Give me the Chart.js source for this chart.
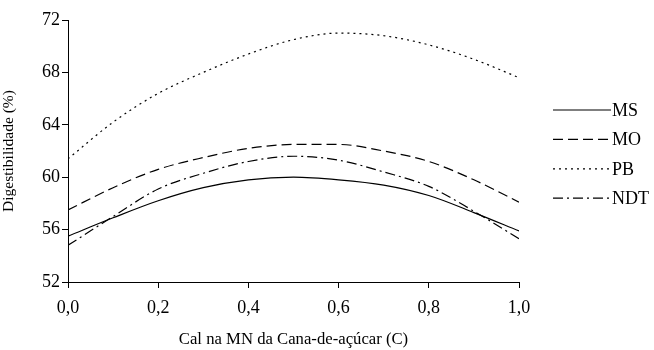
<!DOCTYPE html>
<html>
<head>
<meta charset="utf-8">
<script src="https://cdn.jsdelivr.net/npm/chart.js@4.4.1/dist/chart.umd.min.js"></script>
<style>
  html, body { margin: 0; padding: 0; background: #fff; }
  #wrap { width: 654px; height: 350px; }
</style>
</head>
<body>
<div id="wrap"><canvas id="grafico"></canvas></div>
<script>
// Dados
const xValues = [0, 0.1, 0.2, 0.3, 0.4, 0.5, 0.6, 0.7, 0.8, 0.9, 1.0];
const msValues = [55.5, 56.9, 58.2, 59.2, 59.8, 60.0, 59.8, 59.4, 58.6, 57.3, 55.9];
const moValues = [57.5, 59.2, 60.6, 61.5, 62.2, 62.5, 62.5, 62.0, 61.2, 59.8, 58.1];
const pbValues = [61.4, 64.2, 66.4, 68.0, 69.4, 70.5, 71.0, 70.8, 70.1, 69.0, 67.6];
const ndtValues = [54.8, 57.0, 59.1, 60.3, 61.2, 61.6, 61.3, 60.4, 59.3, 57.4, 55.3];
const seriesNames = ['MS', 'MO', 'PB', 'NDT'];
const yTicks = [52, 56, 60, 64, 68, 72];

const FONT = '"Liberation Serif", "Times New Roman", serif';

function toPoints(values) {
    return values.map((v, i) => ({ x: xValues[i], y: v }));
}

const dashes = [[], [10, 5], [2, 4], [10, 4, 2, 4]];
const allValues = [msValues, moValues, pbValues, ndtValues];

const datasets = seriesNames.map((name, i) => ({
    label: name,
    data: toPoints(allValues[i]),
    borderColor: '#000',
    borderWidth: 1.2,
    borderDash: dashes[i],
    pointRadius: 0,
    fill: false,
    cubicInterpolationMode: 'monotone'
}));

// Legenda desenhada à direita, com amostras de linha
const legendaLinhas = {
    id: 'legendaLinhas',
    afterDraw(chart) {
        const ctx = chart.ctx;
        const startY = 110;
        const gap = 29.4;
        ctx.save();
        chart.data.datasets.forEach((ds, i) => {
            const y = startY + i * gap;
            ctx.beginPath();
            ctx.setLineDash(ds.borderDash || []);
            ctx.lineWidth = 1.2;
            ctx.strokeStyle = '#000';
            ctx.moveTo(553, y);
            ctx.lineTo(611, y);
            ctx.stroke();
            ctx.setLineDash([]);
            ctx.fillStyle = '#000';
            ctx.font = '18px ' + FONT;
            ctx.textBaseline = 'middle';
            ctx.textAlign = 'left';
            ctx.fillText(ds.label, 612, y + 1);
        });
        ctx.restore();
    }
};

new Chart(document.getElementById('grafico'), {
    type: 'line',
    data: { datasets: datasets },
    plugins: [legendaLinhas],
    options: {
        responsive: true,
        maintainAspectRatio: false,
        animation: false,
        layout: { padding: { left: 0, right: 135, top: 20, bottom: 0 } },
        plugins: {
            legend: { display: false },
            tooltip: { enabled: false }
        },
        scales: {
            x: {
                type: 'linear',
                min: 0,
                max: 1,
                border: { color: '#000', width: 1 },
                grid: { drawOnChartArea: false, drawTicks: true, tickLength: 6, color: '#000' },
                ticks: {
                    stepSize: 0.2,
                    color: '#000',
                    font: { family: FONT, size: 18 },
                    padding: 9,
                    maxRotation: 0,
                    callback: v => v.toFixed(1).replace('.', ',')
                },
                title: {
                    display: true,
                    text: 'Cal na MN da Cana-de-açúcar (C)',
                    color: '#000',
                    font: { family: FONT, size: 16.7 },
                    padding: { top: 1, bottom: 0 }
                },
                afterFit(scale) { scale.height = 68; }
            },
            y: {
                min: 52,
                max: 72,
                border: { color: '#000', width: 1 },
                grid: { drawOnChartArea: false, drawTicks: true, tickLength: 6, color: '#000' },
                afterBuildTicks(scale) { scale.ticks = yTicks.map(v => ({ value: v })); },
                ticks: {
                    color: '#000',
                    font: { family: FONT, size: 18 },
                    padding: 2
                },
                title: {
                    display: true,
                    text: 'Digestibilidade (%)',
                    color: '#000',
                    font: { family: FONT, size: 15.5 },
                    padding: { top: 0, bottom: 2 }
                },
                afterFit(scale) { scale.width = 68; }
            }
        }
    }
});
</script>
</body>
</html>
